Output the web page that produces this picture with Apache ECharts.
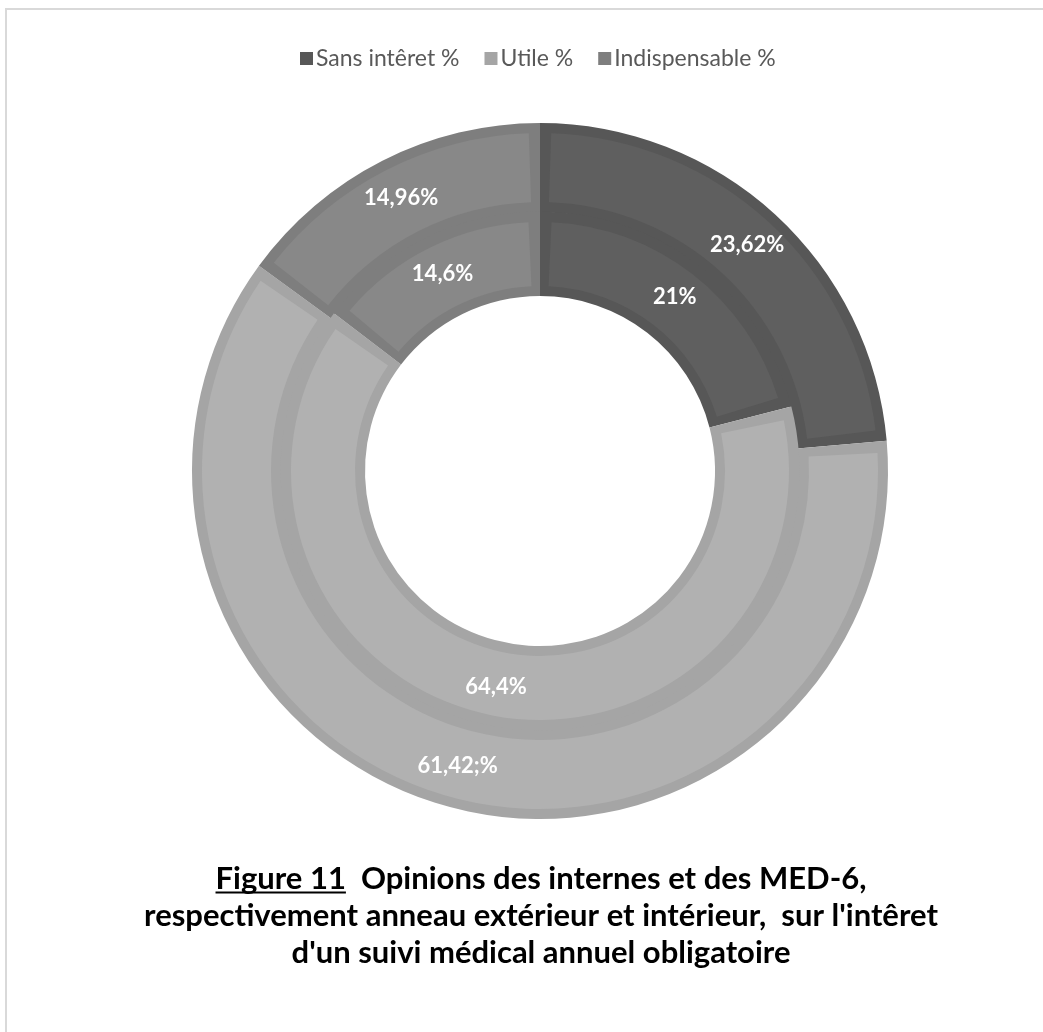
<!DOCTYPE html>
<html><head><meta charset="utf-8">
<script src="https://cdn.jsdelivr.net/npm/echarts@6/dist/echarts.min.js"></script>
<style>html,body{margin:0;padding:0;background:#fff}#c{width:1043px;height:1032px}</style>
</head><body><div id="c"></div>
<script>
// Data
const categories = ['Sans intêret %', 'Utile %', 'Indispensable %'];
const outerValues = [23.62, 61.42, 14.96];   // internes (anneau extérieur)
const innerValues = [21, 64.4, 14.6];        // MED-6 (anneau intérieur)
const outerLabels = ['23,62%', '61,42;%', '14,96%'];
const innerLabels = ['21%', '64,4%', '14,6%'];
const titleLead = 'Figure 11';
const titleLines = ['Figure 11  Opinions des internes et des MED-6,',
  'respectivement anneau extérieur et intérieur,  sur l\'intêret',
  'd\'un suivi médical annuel obligatoire'];

// Styles
const edgeColors = ['#575757', '#a5a5a5', '#7e7e7e'];
const fillColors = ['#5f5f5f', '#b1b1b1', '#888888'];
const FONT = 'Lato';
const CENTER = [540, 471];
const TITLE_SIZE = 31, TITLE_LH = 37, TITLE_TOP = 860, TITLE_X = 541;

function edgeData(vals) {
  return vals.map((v, i) => ({ name: categories[i], value: v, itemStyle: { color: edgeColors[i] } }));
}
function fillData(vals, labels) {
  return vals.map((v, i) => ({ name: categories[i], value: v, itemStyle: { color: fillColors[i] },
    label: { formatter: labels[i] } }));
}
const labelStyle = { show: true, position: 'inside', color: '#ffffff', fontSize: 22, fontWeight: 'bold', fontFamily: FONT };

// underline position for "Figure 11"
const mctx = document.createElement('canvas').getContext('2d');
mctx.font = 'bold ' + TITLE_SIZE + 'px ' + FONT;
const line1W = mctx.measureText(titleLines[0]).width;
const leadW = mctx.measureText(titleLead).width;
const ulX = TITLE_X - line1W / 2;
const ulY = TITLE_TOP + TITLE_LH / 2 + TITLE_SIZE * 0.42;

const chart = echarts.init(document.getElementById('c'), null, { renderer: 'canvas' });
chart.setOption({
  backgroundColor: '#ffffff',
  animation: false,
  legend: {
    data: categories, top: 42, left: 295, icon: 'rect', itemWidth: 13, itemHeight: 13, itemGap: 25,
    textStyle: { color: '#595959', fontSize: 23, fontFamily: FONT, padding: [0, 0, 0, -2] }
  },
  graphic: [
    { type: 'rect', shape: { x: 6, y: 9, width: 1100, height: 1100 }, style: { fill: 'none', stroke: '#d9d9d9', lineWidth: 2 }, silent: true },
    { type: 'text', x: TITLE_X, y: TITLE_TOP, silent: true,
      style: { text: titleLines.join('\n'), align: 'center', verticalAlign: 'top', fill: '#000000',
        font: 'bold ' + TITLE_SIZE + 'px ' + FONT, lineHeight: TITLE_LH } },
    { type: 'rect', silent: true, shape: { x: ulX, y: ulY, width: leadW, height: 2 }, style: { fill: '#000000' } }
  ],
  series: [
    { type: 'pie', name: 'outerEdge', center: CENTER, radius: [258.5, 348], startAngle: 90, silent: true,
      label: { show: false }, labelLine: { show: false }, data: edgeData(outerValues) },
    { type: 'pie', name: 'outerFill', center: CENTER, radius: [269, 338], startAngle: 90, padAngle: 3.8, silent: true,
      label: labelStyle, labelLine: { show: false }, data: fillData(outerValues, outerLabels) },
    { type: 'pie', name: 'innerEdge', center: CENTER, radius: [175, 259.5], startAngle: 90, silent: true,
      label: { show: false }, labelLine: { show: false }, data: edgeData(innerValues) },
    { type: 'pie', name: 'innerFill', center: CENTER, radius: [185, 249], startAngle: 90, padAngle: 5.3, silent: true,
      label: labelStyle, labelLine: { show: false }, data: fillData(innerValues, innerLabels) }
  ]
});
</script></body></html>
